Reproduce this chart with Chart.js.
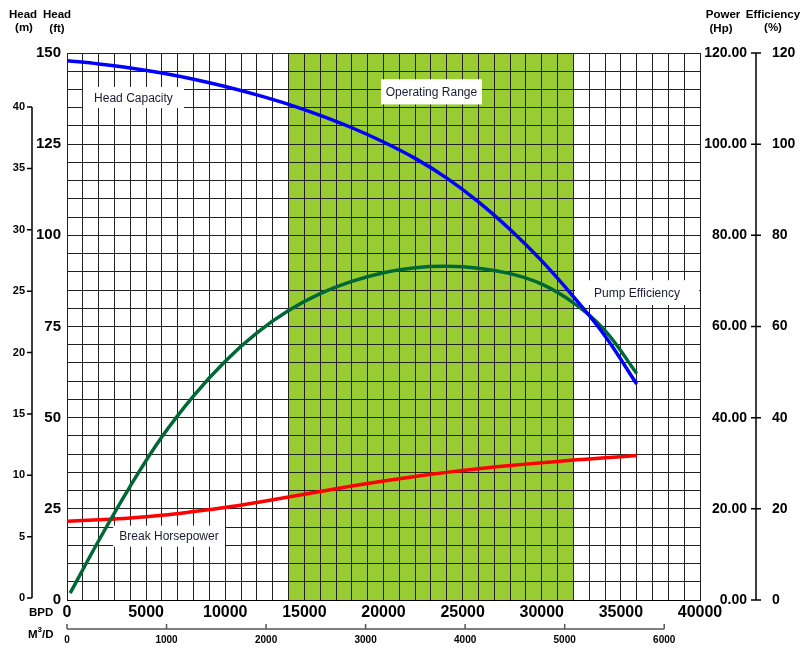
<!DOCTYPE html>
<html>
<head>
<meta charset="utf-8">
<script src="https://cdn.jsdelivr.net/npm/chart.js@4.4.1/dist/chart.umd.min.js"></script>
<style>
  body { margin: 0; background: #fff; }
  #wrap { width: 810px; height: 655px; }
</style>
</head>
<body>
<div id="wrap"><canvas id="pumpChart" width="810" height="655"></canvas></div>
<script>
// flow rate (BPD) sample points
const bpd      = [0, 2000, 4000, 6000, 8000, 10000, 12000, 14000, 16000, 18000, 20000, 22000, 24000, 26000, 28000, 30000, 32000, 34000, 36000];
const headFt   = [147.9, 147.0, 145.9, 144.5, 142.8, 140.8, 138.5, 135.9, 132.9, 129.5, 125.6, 121.1, 115.7, 109.2, 101.6, 93.0, 83.2, 72.4, 59.2];
const powerHp  = [17.3, 17.6, 18.0, 18.6, 19.4, 20.3, 21.4, 22.6, 23.8, 25.0, 26.1, 27.1, 28.0, 28.8, 29.5, 30.1, 30.7, 31.2, 31.7];
const effBpd   = [200, 2000, 4000, 6000, 8000, 10000, 12000, 14000, 16000, 18000, 20000, 22000, 24000, 26000, 28000, 30000, 32000, 34000, 36000];
const effPct   = [1.5, 13.0, 25.0, 35.8, 44.8, 52.4, 58.6, 63.5, 67.2, 69.9, 71.8, 72.9, 73.2, 72.8, 71.6, 69.3, 65.2, 59.1, 49.7];
const opRange  = [14000, 32000];

// axis ticks
const bpdTicks   = [0, 5000, 10000, 15000, 20000, 25000, 30000, 35000, 40000];
const m3Ticks    = [0, 1000, 2000, 3000, 4000, 5000, 6000];
const meterTicks = [0, 5, 10, 15, 20, 25, 30, 35, 40];
const ftTicks    = [0, 25, 50, 75, 100, 125, 150];
const pctTicks   = [0, 20, 40, 60, 80, 100, 120];
const bpdPerM3   = 6.2898;

const FONT = '"Liberation Sans", Arial, sans-serif';

// white note boxes, in BPD / ft units
const notes = [
  { text: 'Head Capacity',    x0: 1010,  x1: 7390,  y0: 134.9, y1: 140.7 },
  { text: 'Operating Range',  x0: 19840, x1: 26220, y0: 135.9, y1: 142.8 },
  { text: 'Pump Efficiency',  x0: 32100, x1: 39940, y0: 80.9,  y1: 87.7 },
  { text: 'Break Horsepower', x0: 2910,  x1: 9980,  y0: 14.6,  y1: 20.4 }
];

const pts = (xs, ys) => xs.map((x, i) => ({ x, y: ys[i] }));

const decor = {
  id: 'decor',
  beforeDraw(chart) {
    const { ctx, chartArea, scales: { x } } = chart;
    const a = x.getPixelForValue(opRange[0]), b = x.getPixelForValue(opRange[1]);
    ctx.save();
    ctx.fillStyle = '#99cc33';
    ctx.fillRect(a, chartArea.top, b - a, chartArea.bottom - chartArea.top);
    ctx.restore();
  },
  beforeDatasetsDraw(chart) {
    const { ctx, scales: { x, yFt } } = chart;
    ctx.save();
    ctx.font = '12px ' + FONT;
    ctx.textAlign = 'center';
    ctx.textBaseline = 'middle';
    notes.forEach(n => {
      const l = x.getPixelForValue(n.x0), r = x.getPixelForValue(n.x1);
      const t = yFt.getPixelForValue(n.y1), btm = yFt.getPixelForValue(n.y0);
      ctx.fillStyle = '#fff';
      ctx.fillRect(l, t, r - l, btm - t);
      ctx.fillStyle = '#1a1a33';
      ctx.fillText(n.text, (l + r) / 2, (t + btm) / 2 + 1);
    });
    ctx.restore();
  },
  afterDraw(chart) {
    const { ctx, chartArea, scales: { yM, yE, xm } } = chart;
    ctx.save();
    // Head (m) axis line
    ctx.strokeStyle = '#000';
    ctx.lineWidth = 1.5;
    const mx = yM.right;
    ctx.beginPath();
    ctx.moveTo(mx, yM.getPixelForValue(meterTicks[meterTicks.length - 1]));
    ctx.lineTo(mx, yM.getPixelForValue(0));
    meterTicks.forEach(v => {
      const py = yM.getPixelForValue(v);
      ctx.moveTo(mx - 5, py); ctx.lineTo(mx, py);
    });
    ctx.stroke();
    // Efficiency axis line
    const ex = yE.left + 9;
    ctx.beginPath();
    ctx.moveTo(ex, chartArea.top);
    ctx.lineTo(ex, chartArea.bottom);
    pctTicks.forEach(v => {
      const py = yE.getPixelForValue(v);
      ctx.moveTo(ex - 5, py); ctx.lineTo(ex + 5, py);
    });
    ctx.stroke();
    // M3/D axis line
    ctx.strokeStyle = '#555';
    const my = xm.top + 7;
    ctx.beginPath();
    ctx.moveTo(xm.getPixelForValue(0), my);
    ctx.lineTo(xm.getPixelForValue(m3Ticks[m3Ticks.length - 1]), my);
    m3Ticks.forEach(v => {
      const px = xm.getPixelForValue(v);
      ctx.moveTo(px, my - 5); ctx.lineTo(px, my);
    });
    ctx.stroke();

    // axis titles
    ctx.fillStyle = '#000';
    ctx.font = 'bold 11.5px ' + FONT;
    ctx.textAlign = 'center';
    ctx.textBaseline = 'middle';
    ctx.fillText('Head', 23, 15);  ctx.fillText('(m)', 24, 28);
    ctx.fillText('Head', 57, 15);  ctx.fillText('(ft)', 57, 29);
    ctx.fillText('Power', 723, 15); ctx.fillText('(Hp)', 721, 29);
    ctx.fillText('Efficiency', 773, 15); ctx.fillText('(%)', 773, 28);
    ctx.textAlign = 'left';
    ctx.fillText('BPD', 29, 613);
    ctx.fillText('M', 28, 635);
    const mw = ctx.measureText('M').width;
    ctx.font = 'bold 8px ' + FONT;
    ctx.fillText('3', 28 + mw, 630);
    const sw = ctx.measureText('3').width;
    ctx.font = 'bold 11.5px ' + FONT;
    ctx.fillText('/D', 28 + mw + sw, 635);
    ctx.restore();
  }
};

const fixW = w => s => { s.width = w; };
const fixH = h => s => { s.height = h; };
const setTicks = arr => s => { s.ticks = arr.map(v => ({ value: v })); };

new Chart(document.getElementById('pumpChart'), {
  type: 'line',
  data: {
    datasets: [
      { label: 'Head Capacity', data: pts(bpd, headFt), yAxisID: 'yFt',
        borderColor: '#0000ff', borderWidth: 3.5 },
      { label: 'Pump Efficiency', data: pts(effBpd, effPct), yAxisID: 'yE',
        borderColor: '#006837', borderWidth: 3.5 },
      { label: 'Break Horsepower', data: pts(bpd, powerHp), yAxisID: 'yHp',
        borderColor: '#ff0000', borderWidth: 3.5 }
    ]
  },
  options: {
    responsive: false,
    animation: false,
    devicePixelRatio: 1,
    parsing: false,
    elements: { point: { radius: 0 }, line: { tension: 0.4, borderCapStyle: 'butt' } },
    layout: { padding: { top: 53, left: 0, right: 0, bottom: 0 } },
    plugins: { legend: { display: false }, tooltip: { enabled: false } },
    scales: {
      x: {
        type: 'linear', position: 'bottom', min: 0, max: 40000,
        afterFit: fixH(22),
        ticks: {
          stepSize: 1000, padding: 3, color: '#000', autoSkip: false, maxRotation: 0,
          font: { family: FONT, size: 16, weight: 'bold' },
          callback: v => bpdTicks.includes(v) ? String(v) : ''
        },
        grid: { color: '#222', lineWidth: 1, drawTicks: false },
        border: { color: '#000', width: 1 }
      },
      xm: {
        type: 'linear', position: 'bottom', weight: 1, min: 0, max: 40000 / bpdPerM3,
        afterFit: fixH(33),
        afterBuildTicks: setTicks(m3Ticks),
        ticks: { padding: 12, color: '#000', autoSkip: false, maxRotation: 0,
          font: { family: FONT, size: 10, weight: 'bold' },
          callback: v => String(v) },
        grid: { display: false, drawTicks: false },
        border: { display: false }
      },
      yFt: {
        type: 'linear', position: 'left', min: 0, max: 150,
        afterFit: fixW(35),
        ticks: {
          stepSize: 5, padding: 6, color: '#000', autoSkip: false,
          font: { family: FONT, size: 15, weight: 'bold' },
          callback: v => ftTicks.includes(v) ? String(v) : ''
        },
        grid: { color: '#222', lineWidth: 1, drawTicks: false },
        border: { display: false }
      },
      yM: {
        type: 'linear', position: 'left', weight: 1, min: -0.16, max: 44.4,
        afterFit: fixW(32),
        afterBuildTicks: setTicks(meterTicks),
        ticks: { padding: 7, color: '#000', autoSkip: false,
          font: { family: FONT, size: 11, weight: 'bold' } },
        grid: { display: false, drawTicks: false },
        border: { display: false }
      },
      yHp: {
        type: 'linear', position: 'right', min: 0, max: 120,
        afterFit: fixW(47),
        afterBuildTicks: setTicks(pctTicks),
        ticks: { crossAlign: 'far', padding: 0, color: '#000', autoSkip: false,
          font: { family: FONT, size: 14, weight: 'bold' },
          callback: v => v.toFixed(2) },
        grid: { display: false, drawTicks: false },
        border: { display: false }
      },
      yE: {
        type: 'linear', position: 'right', weight: 1, min: 0, max: 120,
        afterFit: fixW(63),
        afterBuildTicks: setTicks(pctTicks),
        ticks: { padding: 25, color: '#000', autoSkip: false,
          font: { family: FONT, size: 14, weight: 'bold' } },
        grid: { display: false, drawTicks: false },
        border: { display: false }
      }
    }
  },
  plugins: [decor]
});
</script>
</body>
</html>
